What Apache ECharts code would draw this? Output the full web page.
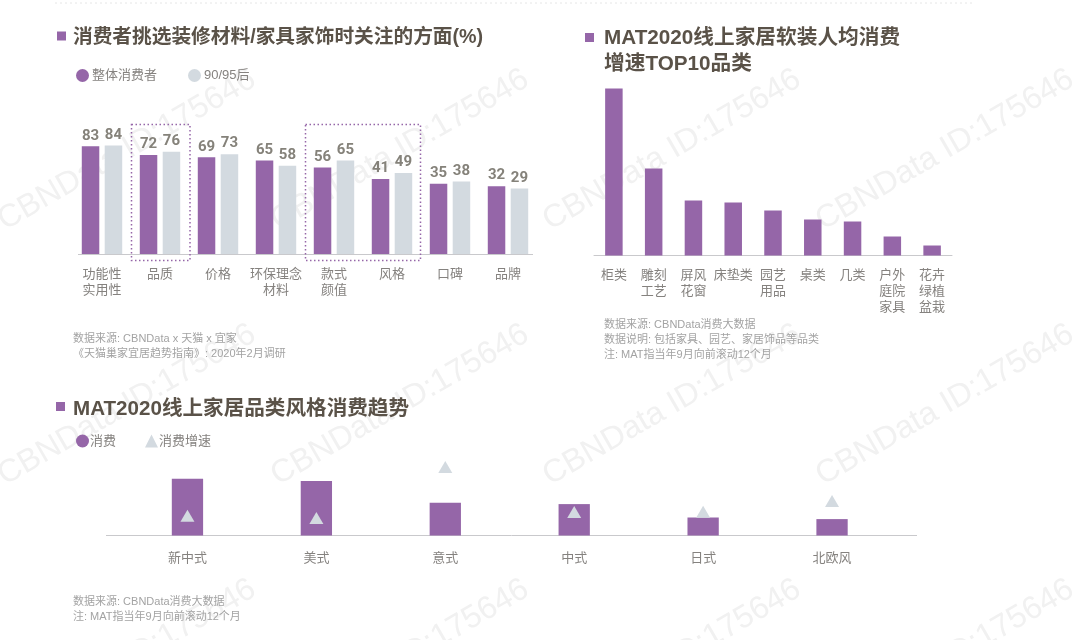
<!DOCTYPE html>
<html>
<head>
<meta charset="utf-8">
<style>
  html, body { margin: 0; padding: 0; background: #fff; }
  #main { width: 1080px; height: 640px; }
</style>
<script src="https://cdn.jsdelivr.net/npm/echarts@6/dist/echarts.min.js"></script>
</head>
<body>
<div id="main"></div>
<script>
// 图一:消费者关注的方面(%)
var aspectCategories = ['功能性\n实用性', '品质', '价格', '环保理念\n材料', '款式\n颜值', '风格', '口碑', '品牌'];
var overallValues = [83, 72, 69, 65, 56, 41, 35, 32];
var youngValues = [84, 76, 73, 58, 65, 49, 38, 29];

// 图二:人均消费增速TOP10品类(原图无数值,按柱高估读)
var top10Categories = ['柜类', '雕刻\n工艺', '屏风\n花窗', '床垫类', '园艺\n用品', '桌类', '几类', '户外\n庭院\n家具', '花卉\n绿植\n盆栽'];
var top10Values = [167, 87, 55, 53, 45, 36, 34, 19, 10];

// 图三:品类风格消费趋势(原图无数值,按高度估读)
var styleCategories = ['新中式', '美式', '意式', '中式', '日式', '北欧风'];
var styleSpend = [56.7, 54.4, 32.7, 31.4, 18, 16.4];
var styleGrowth = [19.7, 17.5, 68.4, 23.4, 23.8, 34.4];

var PURPLE = '#9566a8';
var GREY = '#d3dae0';
var FONT = '"Liberation Sans", "Noto Sans CJK SC", sans-serif';
var TITLE_COLOR = '#5a5248';
var LABEL_COLOR = '#85827f';
var NOTE_COLOR = '#a3a3a3';

var graphics = [];

// 水印
[150, 405, 660].forEach(function (y) {
  [127, 400, 672, 945].forEach(function (x) {
    graphics.push({
      type: 'text', x: x, y: y, rotation: Math.PI / 6, z: -1, silent: true,
      style: { text: 'CBNData ID:175646', x: 0, y: 0, align: 'center', verticalAlign: 'middle',
        fill: '#f1f1f1', font: '32px "Liberation Sans", sans-serif' }
    });
  });
});

function addMarker(x, y) {
  graphics.push({ type: 'rect', shape: { x: x, y: y, width: 9, height: 9 }, style: { fill: PURPLE } });
}
function addTitle(x, y, text, size) {
  graphics.push({ type: 'text', style: { x: x, y: y, text: text, fill: TITLE_COLOR,
    verticalAlign: 'middle', font: 'bold ' + size + 'px ' + FONT } });
}
function addNote(x, y, text) {
  graphics.push({ type: 'text', style: { x: x, y: y, text: text, fill: NOTE_COLOR, verticalAlign: 'middle', font: '11px ' + FONT } });
}
function addLine(x1, x2, y, color, dash) {
  graphics.push({ type: 'line', shape: { x1: x1, y1: y, x2: x2, y2: y }, style: { stroke: color, lineWidth: 1, lineDash: dash } });
}
function addDotBox(x1, y1, x2, y2) {
  graphics.push({ type: 'rect', z: 5, shape: { x: x1, y: y1, width: x2 - x1, height: y2 - y1 },
    style: { fill: 'none', stroke: PURPLE, lineWidth: 1.5, lineDash: [1.5, 2.5] } });
}

addLine(55, 974, 3, '#e6e6e6', [2, 3]);

addMarker(57, 31.5);
addTitle(73, 38, '消费者挑选装修材料/家具家饰时关注的方面(%)', 19.7);
addMarker(585, 33);
addTitle(604, 38, 'MAT2020线上家居软装人均消费', 20.7);
addTitle(604, 64, '增速TOP10品类', 20.7);
addMarker(56, 402);
addTitle(73, 409, 'MAT2020线上家居品类风格消费趋势', 20.6);

addNote(73, 338.5, '数据来源: CBNData x 天猫 x 宜家');
addNote(73, 353.5, '《天猫巢家宜居趋势指南》: 2020年2月调研');
addNote(604, 325, '数据来源: CBNData消费大数据');
addNote(604, 340, '数据说明: 包括家具、园艺、家居饰品等品类');
addNote(604, 355, '注: MAT指当年9月向前滚动12个月');
addNote(73, 601.5, '数据来源: CBNData消费大数据');
addNote(73, 616.5, '注: MAT指当年9月向前滚动12个月');

addLine(78, 533, 254.5, '#c9c9cc');
addLine(106, 917, 535.5, '#c9c9cc');
addDotBox(131.5, 124.5, 190, 260.5);
addDotBox(305.5, 124.5, 420.5, 260.5);

function categoryAxis(gridIndex, data, margin, showLine) {
  return {
    type: 'category', gridIndex: gridIndex, data: data,
    axisTick: { show: false },
    axisLine: { show: showLine, onZero: false, lineStyle: { color: '#c9c9cc' } },
    axisLabel: { color: LABEL_COLOR, fontFamily: FONT, fontSize: 13, lineHeight: 16, margin: margin, interval: 0 }
  };
}

var valueLabel = {
  show: true, position: 'top', distance: 3, color: '#85827a', fontWeight: 'bold', fontSize: 15,
  fontFamily: '"Liberation Sans Narrow", "Roboto", sans-serif'
};

var option = {
  backgroundColor: '#fff',
  animation: false,
  graphic: { elements: graphics },
  legend: [
    {
      left: 71, top: 64, itemWidth: 13, itemHeight: 13, itemGap: 31, selectedMode: false,
      textStyle: { color: LABEL_COLOR, fontFamily: FONT, fontSize: 13, padding: [0, 0, 0, -2] },
      data: [{ name: '整体消费者', icon: 'circle' }, { name: '90/95后', icon: 'circle' }]
    },
    {
      left: 71, top: 429.5, itemWidth: 13, itemHeight: 13, itemGap: 29, selectedMode: false,
      textStyle: { color: LABEL_COLOR, fontFamily: FONT, fontSize: 13, padding: [0, 0, 0, -4] },
      data: [{ name: '消费', icon: 'circle' }, { name: '消费增速', icon: 'triangle' }]
    }
  ],
  grid: [
    { left: 73, top: 133.1, width: 464, height: 120.9 },
    { left: 594, top: 85.5, width: 358, height: 170 },
    { left: 123, top: 455.5, width: 773.5, height: 80 }
  ],
  xAxis: [
    categoryAxis(0, aspectCategories, 12, false),
    categoryAxis(1, top10Categories, 11.5, true),
    categoryAxis(2, styleCategories, 14.5, false)
  ],
  yAxis: [
    // 原图柱子的基线不在0,估算在-55附近
    { type: 'value', gridIndex: 0, show: false, min: -55, max: 100, startValue: -55 },
    { type: 'value', gridIndex: 1, show: false, min: 0, max: 170 },
    { type: 'value', gridIndex: 2, show: false, min: 0, max: 80 }
  ],
  series: [
    { name: '整体消费者', type: 'bar', xAxisIndex: 0, yAxisIndex: 0, data: overallValues, barWidth: 17.5, barGap: '31%',
      itemStyle: { color: PURPLE }, label: valueLabel },
    { name: '90/95后', type: 'bar', xAxisIndex: 0, yAxisIndex: 0, data: youngValues, barWidth: 17.5, barGap: '31%',
      itemStyle: { color: GREY }, label: valueLabel },
    { name: '人均消费增速', type: 'bar', xAxisIndex: 1, yAxisIndex: 1, data: top10Values, barWidth: 17.5,
      itemStyle: { color: PURPLE } },
    { name: '消费', type: 'bar', xAxisIndex: 2, yAxisIndex: 2, data: styleSpend, barWidth: 31.3,
      itemStyle: { color: PURPLE } },
    { name: '消费增速', type: 'scatter', xAxisIndex: 2, yAxisIndex: 2, data: styleGrowth, symbol: 'triangle',
      symbolSize: [14, 12], z: 5, itemStyle: { color: GREY, opacity: 1 } }
  ]
};

var myChart = echarts.init(document.getElementById('main'));
myChart.setOption(option);
</script>
</body>
</html>
